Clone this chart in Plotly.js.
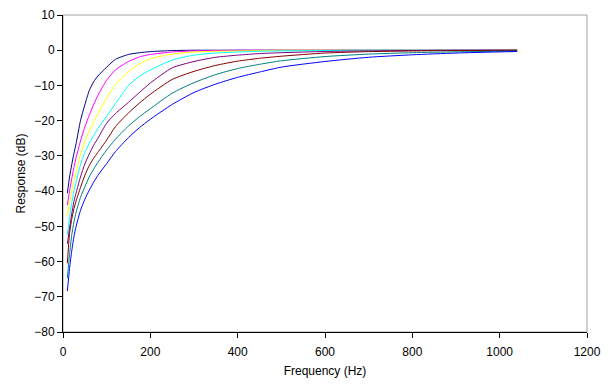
<!DOCTYPE html>
<html>
<head>
<meta charset="utf-8">
<script src="https://cdn.plot.ly/plotly-3.0.1.min.js"></script>
<style>html,body{margin:0;padding:0;background:#fff;}#chart{width:610px;height:387px;}</style>
</head>
<body>
<div id="chart"></div>
<script>
const freq = [10,15,20,25,30,40,50,60,70,80,100,120,150,175,200,250,300,350,400,450,500,600,700,800,900,1040];

const seriesNavy    = [-40.6,-36,-32.5,-29.3,-26.5,-20,-15.5,-11.5,-9,-7.3,-4.8,-2.6,-1.2,-0.7,-0.4,-0.1,0,0,0,0,0,0,0,0,0,0];
const seriesMagenta = [-44,-40,-36.5,-33.3,-30.5,-25.8,-21.8,-18.5,-15.5,-12.8,-8.5,-5.6,-3.2,-1.9,-1.2,-0.5,-0.2,-0.1,0,0,0,0,0,0,0,0];
const seriesYellow  = [-47,-43.3,-40,-37,-34.5,-29.6,-26,-23,-20.4,-18,-13.5,-9.8,-6,-3.9,-2.4,-1.1,-0.5,-0.3,-0.2,-0.1,0,0,0,0,0,0];
const seriesCyan    = [-52.4,-47.5,-43.5,-40,-37.5,-32.5,-29,-26.5,-24.2,-22.2,-18.7,-15.2,-10,-7.4,-5.6,-2.8,-1.4,-0.8,-0.5,-0.3,-0.2,-0.1,0,0,0,0];
const seriesPurple  = [-55,-50.5,-46.5,-43,-40.5,-36,-32.3,-29.5,-27,-25,-20.7,-18,-14.8,-12,-9.3,-5,-3.2,-2,-1.4,-0.95,-0.7,-0.35,-0.2,-0.1,0,0];
const seriesDarkRed = [-60.5,-52,-48,-45,-42.8,-39,-35.5,-32.8,-30.7,-29,-25.5,-21.7,-17.8,-15,-12.5,-8.3,-6,-4.3,-3.1,-2.3,-1.7,-0.8,-0.4,-0.2,-0.1,0];
const seriesTeal    = [-64.7,-58,-52.5,-48.8,-46,-41.8,-38.8,-36,-33.8,-31.8,-28.3,-25.3,-21.5,-18.9,-16.6,-12.2,-9.2,-6.9,-5.2,-4,-3,-1.8,-1.1,-0.7,-0.45,-0.25];
const seriesBlue    = [-68.4,-62,-57,-53,-50,-45.5,-42.3,-39.8,-37.5,-35.5,-32.2,-28.8,-24.8,-22,-19.6,-15.4,-12,-9.6,-7.7,-6.2,-4.8,-3.2,-2,-1.3,-0.8,-0.35];

const seriesList = [seriesNavy, seriesMagenta, seriesYellow, seriesCyan, seriesPurple, seriesDarkRed, seriesTeal, seriesBlue];
const colors = ['#000080','#FF00FF','#FFFF00','#00FFFF','#800080','#800000','#008080','#0000FF'];

const traces = seriesList.map((y, i) => ({
  x: freq, y: y, type: 'scatter', mode: 'lines',
  line: {color: colors[i], width: 1, shape: 'spline', smoothing: 0.6},
  hoverinfo: 'skip', showlegend: false
}));

const layout = {
  width: 610, height: 387,
  margin: {l: 63, r: 23, t: 15, b: 55},
  paper_bgcolor: '#fff', plot_bgcolor: '#fff',
  font: {family: 'Liberation Sans, Arial, sans-serif', size: 12, color: '#000'},
  xaxis: {
    range: [0, 1200], dtick: 200, tick0: 0,
    showgrid: false, zeroline: false,
    showline: true, linecolor: '#000', linewidth: 1,
    ticks: 'outside', ticklen: 5, tickcolor: '#000', tickwidth: 1,
    ticklabelstandoff: 4,
    title: {text: 'Frequency (Hz)', font: {size: 12}, standoff: 8}
  },
  yaxis: {
    range: [-80, 10], dtick: 10, tick0: 0,
    showgrid: false, zeroline: false,
    showline: true, linecolor: '#000', linewidth: 1,
    ticks: 'outside', ticklen: 5, tickcolor: '#000', tickwidth: 1,
    title: {text: 'Response (dB)', font: {size: 12}, standoff: 6}
  },
  shapes: [{
    type: 'rect', xref: 'paper', yref: 'paper', x0: 0, x1: 1, y0: 0, y1: 1,
    line: {color: '#a0a0a0', width: 1}, layer: 'below'
  }]
};

Plotly.newPlot('chart', traces, layout, {staticPlot: true, displayModeBar: false});
</script>
</body>
</html>
